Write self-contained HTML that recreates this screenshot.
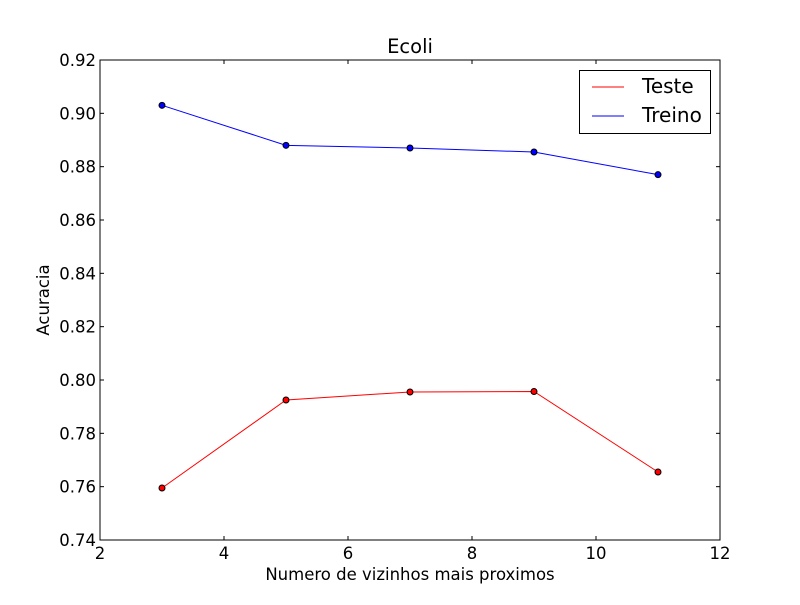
<!DOCTYPE html>
<html><head><meta charset="utf-8"><style>body{margin:0;background:#fff}svg{font-family:"DejaVu Sans","Liberation Sans",sans-serif}</style></head>
<body>
<svg id="c" width="800" height="600" viewBox="0 0 800 600"></svg>
<script>
const xValues=[3,5,7,9,11];
const testeValues=[0.7595,0.7925,0.7955,0.7957,0.7655];
const treinoValues=[0.903,0.888,0.887,0.8855,0.877];
const xTicks=[2,4,6,8,10,12];
const yTicks=[0.74,0.76,0.78,0.80,0.82,0.84,0.86,0.88,0.90,0.92];
const L=100,R=720,T=60,B=540;
const sx=v=>L+(v-2)/10*(R-L);
const sy=v=>B-(v-0.74)/0.18*(B-T);
const svg=document.getElementById('c');const NS='http://www.w3.org/2000/svg';
function mk(t,a,p){const e=document.createElementNS(NS,t);for(const k in a)e.setAttribute(k,a[k]);(p||svg).appendChild(e);return e;}
function txt(s,a){const e=mk('text',a);e.textContent=s;return e;}
function series(vals,color,name){
 const pl=mk('polyline',{points:vals.map((v,i)=>sx(xValues[i])+','+sy(v)).join(' '),fill:'none',stroke:color,'stroke-width':1});
 
 
 vals.forEach((v,i)=>{const c=mk('circle',{cx:sx(xValues[i]),cy:sy(v),r:3,fill:color,stroke:'#000','stroke-width':1});
 
 });
}
series(testeValues,'#ff0000','teste');
series(treinoValues,'#0000ff','treino');
const fr=mk('rect',{x:L,y:T,width:R-L,height:B-T,fill:'none',stroke:'#000','stroke-width':1});


xTicks.forEach(v=>{const x=sx(v);mk('line',{x1:x,x2:x,y1:B,y2:B-4,stroke:'#000'});mk('line',{x1:x,x2:x,y1:T,y2:T+4,stroke:'#000'});
 const t=txt(String(v),{x:x,y:B+19,'text-anchor':'middle','font-size':16.5});
 
 });
yTicks.forEach(v=>{const y=sy(v);mk('line',{x1:L,x2:L+4,y1:y,y2:y,stroke:'#000'});mk('line',{x1:R,x2:R-4,y1:y,y2:y,stroke:'#000'});
 const t=txt(v.toFixed(2),{x:L-4,y:y+6,'text-anchor':'end','font-size':16.5});
 
 });
</script>
<svg width="800" height="600" style="position:absolute;left:0;top:0">
<text x="410" y="53" text-anchor="middle" font-size="19.5">Ecoli</text>
<text x="410" y="580" text-anchor="middle" font-size="16.5">Numero de vizinhos mais proximos</text>
<text transform="translate(49,300) rotate(-90)" text-anchor="middle" font-size="16.5">Acuracia</text>
<g>
<rect x="579.5" y="70.5" width="131" height="63" fill="#fff" stroke="#000"/>
<line x1="592" x2="624" y1="87" y2="87" stroke="#ff0000"/>
<text x="642" y="93" font-size="20">Teste</text>
<line x1="592" x2="624" y1="116" y2="116" stroke="#0000ff"/>
<text x="642" y="122" font-size="20">Treino</text>
</g>
</svg>
</body></html>
